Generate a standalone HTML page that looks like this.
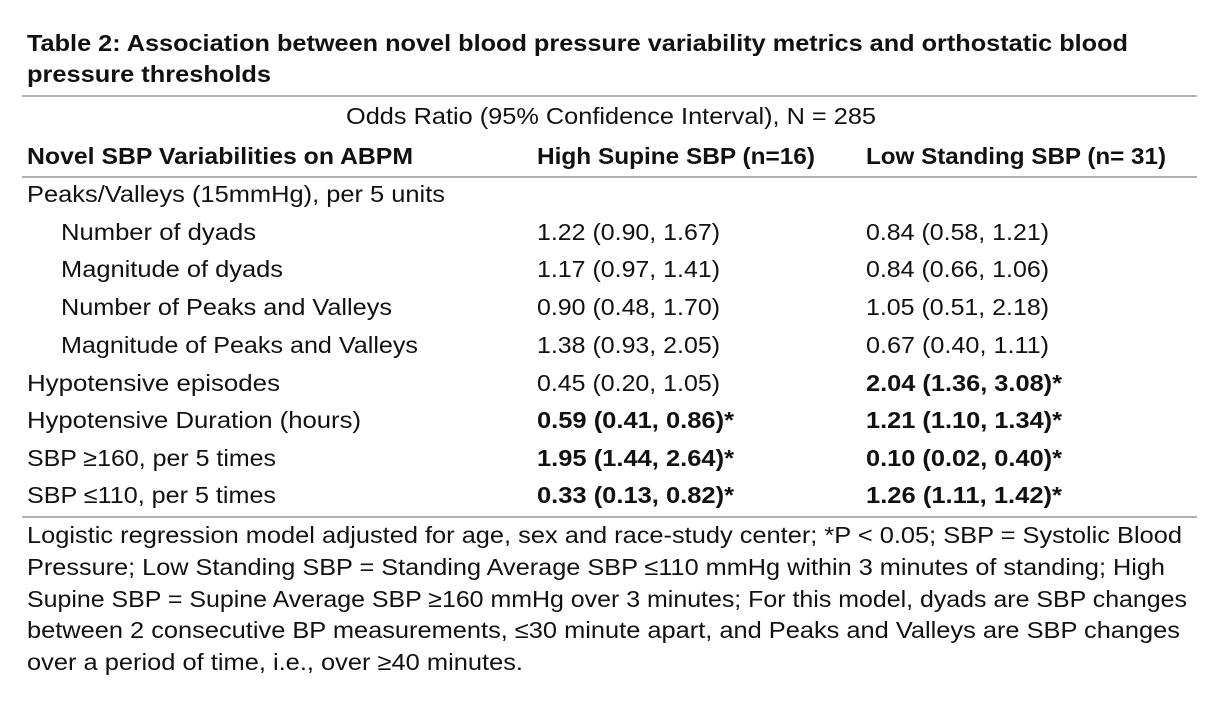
<!DOCTYPE html>
<html><head><meta charset="utf-8"><style>
html,body{margin:0;padding:0;background:#fff;}
svg text{font-family:"Liberation Sans",sans-serif;fill:#111;font-size:23.5px;}
.b{font-weight:bold;}
</style></head><body>
<svg width="1225" height="703" viewBox="0 0 1225 703" xmlns="http://www.w3.org/2000/svg">
<rect width="1225" height="703" fill="#fff"/>
<text class="b" x="27" y="51" font-size="24" textLength="1101" lengthAdjust="spacingAndGlyphs">Table 2: Association between novel blood pressure variability metrics and orthostatic blood</text>
<text class="b" x="27" y="82" font-size="24" textLength="244" lengthAdjust="spacingAndGlyphs">pressure thresholds</text>
<line x1="22" y1="96" x2="1197" y2="96" stroke="#999" stroke-width="1.5"/>
<text x="346" y="124" textLength="530" lengthAdjust="spacingAndGlyphs">Odds Ratio (95% Confidence Interval), N = 285</text>
<text class="b" x="27" y="164" textLength="386" lengthAdjust="spacingAndGlyphs">Novel SBP Variabilities on ABPM</text>
<text class="b" x="537" y="164" textLength="278" lengthAdjust="spacingAndGlyphs">High Supine SBP (n=16)</text>
<text class="b" x="866" y="164" textLength="300" lengthAdjust="spacingAndGlyphs">Low Standing SBP (n= 31)</text>
<line x1="22" y1="177" x2="1197" y2="177" stroke="#999" stroke-width="1.5"/>
<text x="27" y="202" textLength="418" lengthAdjust="spacingAndGlyphs">Peaks/Valleys (15mmHg), per 5 units</text>
<text x="61" y="240" textLength="195" lengthAdjust="spacingAndGlyphs">Number of dyads</text>
<text x="537" y="240" textLength="183" lengthAdjust="spacingAndGlyphs">1.22 (0.90, 1.67)</text>
<text x="866" y="240" textLength="183" lengthAdjust="spacingAndGlyphs">0.84 (0.58, 1.21)</text>
<text x="61" y="277" textLength="222" lengthAdjust="spacingAndGlyphs">Magnitude of dyads</text>
<text x="537" y="277" textLength="183" lengthAdjust="spacingAndGlyphs">1.17 (0.97, 1.41)</text>
<text x="866" y="277" textLength="183" lengthAdjust="spacingAndGlyphs">0.84 (0.66, 1.06)</text>
<text x="61" y="315" textLength="331" lengthAdjust="spacingAndGlyphs">Number of Peaks and Valleys</text>
<text x="537" y="315" textLength="183" lengthAdjust="spacingAndGlyphs">0.90 (0.48, 1.70)</text>
<text x="866" y="315" textLength="183" lengthAdjust="spacingAndGlyphs">1.05 (0.51, 2.18)</text>
<text x="61" y="353" textLength="357" lengthAdjust="spacingAndGlyphs">Magnitude of Peaks and Valleys</text>
<text x="537" y="353" textLength="183" lengthAdjust="spacingAndGlyphs">1.38 (0.93, 2.05)</text>
<text x="866" y="353" textLength="183" lengthAdjust="spacingAndGlyphs">0.67 (0.40, 1.11)</text>
<text x="27" y="391" textLength="253" lengthAdjust="spacingAndGlyphs">Hypotensive episodes</text>
<text x="537" y="391" textLength="183" lengthAdjust="spacingAndGlyphs">0.45 (0.20, 1.05)</text>
<text class="b" x="866" y="391" textLength="196" lengthAdjust="spacingAndGlyphs">2.04 (1.36, 3.08)*</text>
<text x="27" y="428" textLength="334" lengthAdjust="spacingAndGlyphs">Hypotensive Duration (hours)</text>
<text class="b" x="537" y="428" textLength="197" lengthAdjust="spacingAndGlyphs">0.59 (0.41, 0.86)*</text>
<text class="b" x="866" y="428" textLength="196" lengthAdjust="spacingAndGlyphs">1.21 (1.10, 1.34)*</text>
<text x="27" y="466" textLength="249" lengthAdjust="spacingAndGlyphs">SBP ≥160, per 5 times</text>
<text class="b" x="537" y="466" textLength="197" lengthAdjust="spacingAndGlyphs">1.95 (1.44, 2.64)*</text>
<text class="b" x="866" y="466" textLength="196" lengthAdjust="spacingAndGlyphs">0.10 (0.02, 0.40)*</text>
<text x="27" y="503" textLength="249" lengthAdjust="spacingAndGlyphs">SBP ≤110, per 5 times</text>
<text class="b" x="537" y="503" textLength="197" lengthAdjust="spacingAndGlyphs">0.33 (0.13, 0.82)*</text>
<text class="b" x="866" y="503" textLength="196" lengthAdjust="spacingAndGlyphs">1.26 (1.11, 1.42)*</text>
<line x1="22" y1="517" x2="1197" y2="517" stroke="#999" stroke-width="1.5"/>
<text x="27" y="543" textLength="1155" lengthAdjust="spacingAndGlyphs">Logistic regression model adjusted for age, sex and race-study center; *P &lt; 0.05; SBP = Systolic Blood</text>
<text x="27" y="575" textLength="1138" lengthAdjust="spacingAndGlyphs">Pressure; Low Standing SBP =  Standing Average SBP ≤110 mmHg within 3 minutes of standing; High</text>
<text x="27" y="607" textLength="1160" lengthAdjust="spacingAndGlyphs">Supine SBP = Supine Average SBP ≥160 mmHg over 3 minutes; For this model, dyads are SBP changes</text>
<text x="27" y="638" textLength="1153" lengthAdjust="spacingAndGlyphs">between 2 consecutive BP measurements, ≤30 minute apart, and Peaks and Valleys are SBP changes</text>
<text x="27" y="670" textLength="496" lengthAdjust="spacingAndGlyphs">over a period of time, i.e., over ≥40 minutes.</text>
</svg>
</body></html>
